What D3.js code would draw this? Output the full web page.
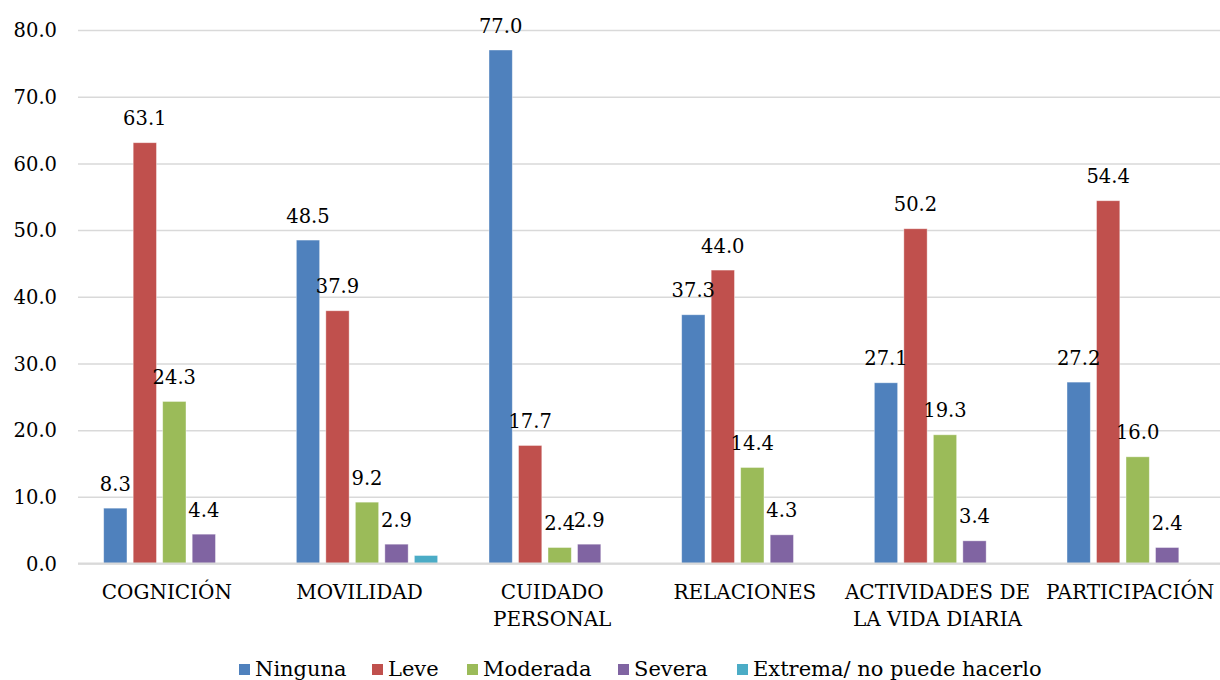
<!DOCTYPE html>
<html>
<head>
<meta charset="utf-8">
<script src="https://cdn.jsdelivr.net/npm/d3@7"></script>
<style>
  html, body { margin: 0; padding: 0; background: #fff; }
  svg { display: block; }
  text { font-family: "DejaVu Serif", "Liberation Serif", serif; fill: #000; }
</style>
</head>
<body>
<svg id="chart" width="1220" height="680"></svg>
<script>
// Categories (two-line labels split with "\n")
const categories = ["COGNICIÓN", "MOVILIDAD", "CUIDADO\nPERSONAL", "RELACIONES", "ACTIVIDADES DE\nLA VIDA DIARIA", "PARTICIPACIÓN"];
const seriesNames = ["Ninguna", "Leve", "Moderada", "Severa", "Extrema/ no puede hacerlo"];
const seriesColors = ["#4F81BD", "#C0504D", "#9BBB59", "#8064A2", "#4BACC6"];

// Percentages per series, in category order
const ninguna  = [8.3, 48.5, 77.0, 37.3, 27.1, 27.2];
const leve     = [63.1, 37.9, 17.7, 44.0, 50.2, 54.4];
const moderada = [24.3, 9.2, 2.4, 14.4, 19.3, 16.0];
const severa   = [4.4, 2.9, 2.9, 4.3, 3.4, 2.4];
const extrema  = [null, 1.2, null, null, null, null];

// Which series carry value labels
const labelled = [true, true, true, true, false];

const yTicks = [0, 10, 20, 30, 40, 50, 60, 70, 80];

const seriesValues = [ninguna, leve, moderada, severa, extrema];

const svg = d3.select("#chart");
const W = 1220, H = 680;
const plot = { left: 78, right: 1234, top: 30, bottom: 563.5 };

const x0 = d3.scaleBand()
  .domain(categories)
  .range([plot.left, plot.right])
  .paddingInner(0).paddingOuter(0);

const x1 = d3.scaleBand()
  .domain(seriesNames)
  .range([0, x0.bandwidth()])
  .paddingInner(0.21)
  .paddingOuter(0.87);

const y = d3.scaleLinear()
  .domain([0, 80])
  .range([plot.bottom, plot.top]);

// Gridlines and value-axis labels
const yAxis = d3.axisLeft(y)
  .tickValues(yTicks)
  .tickSize(-(plot.right - plot.left))
  .tickPadding(21)
  .tickFormat(d3.format(".1f"));

const gy = svg.append("g")
  .attr("transform", `translate(${plot.left},0)`)
  .call(yAxis);
gy.select(".domain").remove();
gy.selectAll(".tick line").attr("stroke", "#d9d9d9").attr("stroke-width", 1.5);
gy.selectAll(".tick text")
  .attr("font-size", 19.5)
  .attr("font-family", "DejaVu Serif")
  .attr("fill", "#000")
  .attr("dy", "0.35em");

// Bars
const rows = [];
categories.forEach((c, i) => {
  seriesNames.forEach((s, j) => {
    const v = seriesValues[j][i];
    if (v !== null && v !== undefined) rows.push({ cat: c, series: s, j, value: v });
  });
});

const bars = svg.append("g");
bars.selectAll("rect")
  .data(rows)
  .join("rect")
  .attr("x", d => x0(d.cat) + x1(d.series))
  .attr("y", d => y(d.value))
  .attr("width", x1.bandwidth())
  .attr("height", d => y(0) - y(d.value))
  .attr("fill", d => seriesColors[d.j])
  .attr("stroke", "#ffffff")
  .attr("stroke-opacity", 0.5)
  .attr("stroke-width", 0.8);

// Category axis baseline
svg.append("line")
  .attr("x1", plot.left).attr("x2", plot.right)
  .attr("y1", y(0)).attr("y2", y(0))
  .attr("stroke", "#d9d9d9").attr("stroke-width", 2);

// Value labels
svg.append("g").selectAll("text")
  .data(rows.filter(d => labelled[d.j]))
  .join("text")
  .attr("x", d => x0(d.cat) + x1(d.series) + x1.bandwidth() / 2)
  .attr("y", d => y(d.value) - 17.5)
  .attr("text-anchor", "middle")
  .attr("font-size", 19.5)
  .text(d => d.value.toFixed(1));

// Category labels
const catG = svg.append("g");
categories.forEach(c => {
  const lines = c.split("\n");
  const cx = x0(c) + x0.bandwidth() / 2 - 7.5;
  const t = catG.append("text")
    .attr("x", cx)
    .attr("y", 599)
    .attr("text-anchor", "middle")
    .attr("font-size", 20);
  lines.forEach((ln, k) => {
    t.append("tspan")
      .attr("x", cx)
      .attr("dy", k === 0 ? 0 : 26.5)
      .text(ln);
  });
});

// Legend
const legendX = [239, 372, 467, 618, 737];
const leg = svg.append("g");
seriesNames.forEach((s, j) => {
  leg.append("rect")
    .attr("x", legendX[j]).attr("y", 664)
    .attr("width", 11).attr("height", 11)
    .attr("fill", seriesColors[j]);
  leg.append("text")
    .attr("x", legendX[j] + 16).attr("y", 675.5)
    .attr("font-size", 21)
    .text(s);
});
</script>
</body>
</html>
